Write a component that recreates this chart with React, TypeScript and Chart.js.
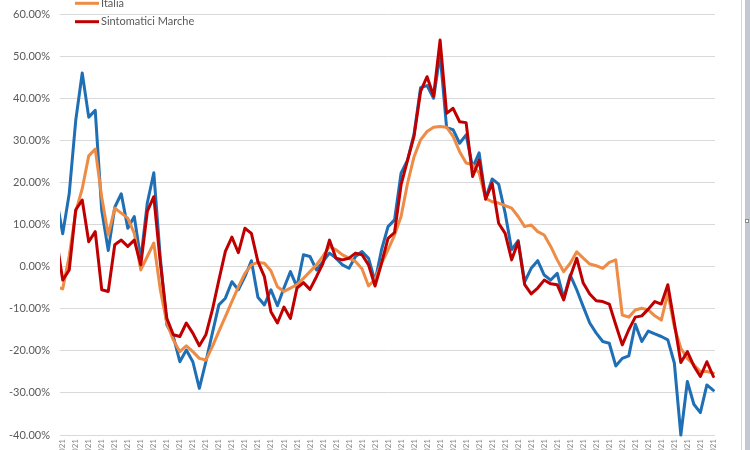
import React, { useEffect, useRef } from "react";
import { Chart, registerables } from "chart.js";

Chart.register(...registerables);

// Category labels (daily dates; only the tail "021" is visible in the cropped view)
const labels: string[] = [
  "01/01/2021","02/01/2021","03/01/2021","04/01/2021","05/01/2021","06/01/2021","07/01/2021","08/01/2021","09/01/2021","10/01/2021",
  "11/01/2021","12/01/2021","13/01/2021","14/01/2021","15/01/2021","16/01/2021","17/01/2021","18/01/2021","19/01/2021","20/01/2021",
  "21/01/2021","22/01/2021","23/01/2021","24/01/2021","25/01/2021","26/01/2021","27/01/2021","28/01/2021","29/01/2021","30/01/2021",
  "31/01/2021","01/02/2021","02/02/2021","03/02/2021","04/02/2021","05/02/2021","06/02/2021","07/02/2021","08/02/2021","09/02/2021",
  "10/02/2021","11/02/2021","12/02/2021","13/02/2021","14/02/2021","15/02/2021","16/02/2021","17/02/2021","18/02/2021","19/02/2021",
  "20/02/2021","21/02/2021","22/02/2021","23/02/2021","24/02/2021","25/02/2021","26/02/2021","27/02/2021","28/02/2021","01/03/2021",
  "02/03/2021","03/03/2021","04/03/2021","05/03/2021","06/03/2021","07/03/2021","08/03/2021","09/03/2021","10/03/2021","11/03/2021",
  "12/03/2021","13/03/2021","14/03/2021","15/03/2021","16/03/2021","17/03/2021","18/03/2021","19/03/2021","20/03/2021","21/03/2021",
  "22/03/2021","23/03/2021","24/03/2021","25/03/2021","26/03/2021","27/03/2021","28/03/2021","29/03/2021","30/03/2021","31/03/2021",
  "01/04/2021","02/04/2021","03/04/2021","04/04/2021","05/04/2021","06/04/2021","07/04/2021","08/04/2021","09/04/2021","10/04/2021",
  "11/04/2021","12/04/2021",
];

// Series values (percent)
const positiviMarche: number[] = [
  16.5, 7.8, 17.3, 34.7, 46.0, 35.5, 37.1, 13.3, 3.8, 14.1,
  17.3, 9.1, 11.9, 1.6, 15.1, 22.3, 2.0, -13.8, -16.6, -22.6,
  -19.8, -22.6, -28.9, -22.6, -15.8, -9.1, -7.5, -3.6, -5.5, -2.4,
  1.4, -7.3, -9.1, -5.5, -9.3, -5.1, -1.2, -4.8, 2.8, 2.4,
  -0.8, 1.2, 3.2, 2.0, 0.4, -0.4, 2.4, 3.6, 2.0, -3.5,
  4.0, 9.5, 11.1, 22.2, 25.3, 31.5, 42.5, 43.0, 40.0, 50.5,
  33.0, 32.5, 29.3, 31.3, 23.5, 27.0, 16.2, 20.8, 19.6, 12.7,
  4.0, 6.2, -3.6, -0.4, 1.4, -2.0, -3.2, -1.6, -7.5, -2.0,
  -5.5, -9.5, -13.4, -15.8, -17.8, -18.2, -23.6, -21.8, -21.2, -13.7,
  -17.8, -15.3, -16.0, -16.6, -17.4, -22.9, -40.0, -27.3, -32.7, -34.7,
  -28.1, -29.4,
];

const italia: number[] = [
  -4.8, -5.3, 2.5, 13.0, 18.5, 26.3, 27.9, 16.5, 7.5, 13.9,
  12.7, 11.5, 7.9, -0.8, 2.4, 5.6, -5.5, -13.4, -17.4, -20.2,
  -18.8, -20.2, -21.8, -22.2, -19.0, -15.4, -11.9, -8.3, -4.8, -1.6,
  0.4, 1.0, 0.8, -1.0, -4.8, -5.9, -5.1, -4.3, -2.8, -1.2,
  0.4, 2.5, 4.8, 4.0, 2.8, 2.0, 1.2, -0.5, -4.6, -3.0,
  0.8, 4.0, 7.5, 11.9, 19.8, 26.1, 30.1, 32.1, 33.1, 33.3,
  33.1, 30.9, 27.3, 24.6, 24.2, 22.2, 16.2, 15.4, 15.1, 14.5,
  13.9, 11.9, 9.5, 9.9, 8.3, 7.5, 4.8, 1.6, -1.2, 0.8,
  3.5, 2.0, 0.6, 0.2, -0.4, 1.0, 1.6, -11.5, -12.0, -10.3,
  -9.9, -10.3, -11.7, -12.7, -6.3, -14.3, -19.4, -21.8, -23.3, -24.9,
  -24.9, -25.3,
];

const sintomaticiMarche: number[] = [
  7.0, -3.2, -0.8, 13.5, 15.8, 5.9, 8.3, -5.5, -5.9, 5.2,
  6.3, 4.8, 6.3, 0.4, 13.1, 16.6, 1.0, -12.3, -16.2, -16.6,
  -13.4, -15.8, -18.8, -16.2, -10.3, -3.2, 3.6, 7.0, 3.3, 9.1,
  7.9, 1.2, -2.4, -10.7, -13.4, -9.6, -12.3, -5.1, -3.8, -5.4,
  -2.4, 0.8, 6.3, 2.0, 1.6, 2.0, 3.2, 2.8, 0.4, -4.6,
  0.8, 6.7, 8.1, 19.4, 25.3, 31.0, 41.6, 45.1, 40.5, 53.8,
  36.4, 37.6, 34.4, 34.2, 21.4, 25.3, 16.0, 19.8, 10.3, 7.9,
  1.6, 5.9, -4.3, -6.5, -5.1, -3.2, -4.1, -4.3, -7.9, -2.4,
  2.0, -3.9, -6.5, -8.1, -8.3, -8.9, -13.8, -18.6, -15.0, -12.0,
  -11.7, -10.1, -8.3, -8.9, -4.3, -13.4, -22.8, -20.2, -23.6, -26.1,
  -22.6, -26.1,
];

const seriesNames = ["Positivi Marche", "Italia", "Sintomatici Marche"];
const seriesColors = ["#1f6fb5", "#ee8b45", "#c00000"];

const FONT = '"Liberation Sans Narrow", Lato, "Liberation Sans", sans-serif';
const CW = 750;
const CH = 560;
const SHIFT = 30;

export default function App() {
  const ref = useRef<HTMLCanvasElement>(null);

  useEffect(() => {
    const canvas = ref.current;
    if (!canvas) return;
    const toXY = (arr: number[]) => arr.map((v, i) => ({ x: i, y: v }));
    const tickIdx = labels.map((_, i) => i).filter((i) => i % 2 === 1);

    const legendPlugin = {
      id: "excelLegend",
      afterDraw(chart: any) {
        const c = chart.ctx;
        c.save();
        c.font = `11px ${FONT}`;
        c.textBaseline = "middle";
        const ys = [15, 33.3, 51.7];
        seriesNames.forEach((name, k) => {
          const y = ys[k];
          c.strokeStyle = seriesColors[k];
          c.lineWidth = 3;
          c.beginPath();
          c.moveTo(75, y);
          c.lineTo(99, y);
          c.stroke();
          c.fillStyle = "#595959";
          c.fillText(name, 101, y);
        });
        c.restore();
      },
    };

    const chart = new Chart(canvas, {
      type: "line",
      data: {
        datasets: [
          { label: seriesNames[2], data: toXY(sintomaticiMarche), borderColor: seriesColors[2], backgroundColor: seriesColors[2] },
          { label: seriesNames[1], data: toXY(italia), borderColor: seriesColors[1], backgroundColor: seriesColors[1] },
          { label: seriesNames[0], data: toXY(positiviMarche), borderColor: seriesColors[0], backgroundColor: seriesColors[0] },
        ] as any,
      },
      options: {
        animation: false,
        responsive: false,
        devicePixelRatio: 1,
        layout: { padding: { top: 14 + SHIFT, right: 35, left: 0, bottom: 0 } },
        plugins: { legend: { display: false }, tooltip: { enabled: false } },
        elements: {
          point: { radius: 0 },
          line: { tension: 0, borderWidth: 3, borderJoinStyle: "round", borderCapStyle: "round" },
        },
        datasets: { line: { clip: { left: 0, top: 6, right: 4, bottom: 2 } as any } },
        scales: {
          x: {
            type: "linear",
            min: 0.584,
            max: 101.25,
            grid: { display: false, drawTicks: false },
            border: { display: false },
            afterBuildTicks: (s: any) => {
              s.ticks = tickIdx.map((v) => ({ value: v }));
            },
            afterFit: (s: any) => {
              s.height = CH - (435 + SHIFT);
            },
            ticks: {
              autoSkip: false,
              minRotation: 90,
              maxRotation: 90,
              padding: 4,
              font: { family: FONT, size: 8 },
              color: "#8c8c8c",
              callback: (v: any) => labels[Math.round(Number(v))] ?? "",
            },
          },
          y: {
            min: -40,
            max: 60,
            grid: { color: "#d9d9d9", lineWidth: 1, drawTicks: false },
            border: { display: false },
            afterFit: (s: any) => {
              s.width = 60;
            },
            ticks: {
              stepSize: 10,
              padding: 10,
              font: { family: FONT, size: 11 },
              color: "#595959",
              callback: (v: any) => Number(v).toFixed(2) + "%",
            },
          },
        },
      } as any,
      plugins: [legendPlugin],
    });
    return () => chart.destroy();
  }, []);

  return (
    <div style={{ position: "fixed", left: 0, top: 0, width: 750, height: 450, overflow: "hidden", background: "#fff" }}>
      <canvas ref={ref} width={CW} height={CH} style={{ position: "absolute", left: 0, top: -SHIFT, width: CW, height: CH }} />
      <div style={{ position: "absolute", left: 741, top: 0, width: 1, height: 450, background: "#d6d6d6" }} />
      <div style={{ position: "absolute", left: 745, top: 0, width: 5, height: 450, background: "#c3c8d2" }} />
      <div style={{ position: "absolute", left: 745, top: 219, width: 4, height: 4, background: "#fff", border: "1px solid #8a8a8a", boxSizing: "border-box" }} />
    </div>
  );
}
